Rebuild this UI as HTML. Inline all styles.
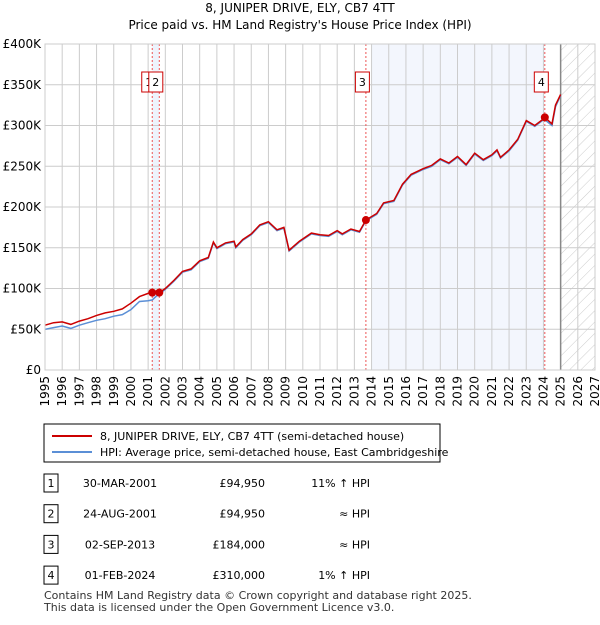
<!DOCTYPE html>
<html><head><meta charset="utf-8"><style>
body{margin:0;background:#fff;font-family:"Liberation Sans","DejaVu Sans",sans-serif;}
svg text{font-family:"DejaVu Sans","Liberation Sans",sans-serif;}
</style></head><body>
<svg id="c" width="600" height="620" xmlns="http://www.w3.org/2000/svg">
<defs><pattern id="hatch" width="8" height="8" patternUnits="userSpaceOnUse" patternTransform="rotate(45)"><line x1="0" y1="0" x2="0" y2="8" stroke="#ccc" stroke-width="1"/></pattern></defs>
<text x="300" y="12" text-anchor="middle" font-size="12">8, JUNIPER DRIVE, ELY, CB7 4TT</text>
<text x="300" y="29" text-anchor="middle" font-size="12">Price paid vs. HM Land Registry's House Price Index (HPI)</text>
<g id="plot"></g>
<rect x="44" y="424" width="396" height="38" fill="#fff" stroke="#000" stroke-width="1"/>
<line x1="52" y1="436" x2="92" y2="436" stroke="#c00" stroke-width="2"/>
<text x="100" y="440" font-size="11">8, JUNIPER DRIVE, ELY, CB7 4TT (semi-detached house)</text>
<line x1="52" y1="452" x2="92" y2="452" stroke="#5b8fd6" stroke-width="2"/>
<text x="100" y="456" font-size="11">HPI: Average price, semi-detached house, East Cambridgeshire</text>
<g id="table" font-size="11"></g>
<text x="44" y="599" font-size="11" fill="#333">Contains HM Land Registry data © Crown copyright and database right 2025.</text>
<text x="44" y="611" font-size="11" fill="#333">This data is licensed under the Open Government Licence v3.0.</text>
</svg>
<script>
const redYears=[1995,1995.5,1996,1996.5,1997,1997.5,1998,1998.5,1999,1999.5,2000,2000.5,2001,2001.24,2001.5,2001.65,2002,2002.5,2003,2003.5,2004,2004.5,2004.8,2005,2005.5,2006,2006.1,2006.5,2007,2007.5,2008,2008.5,2008.9,2009.2,2009.8,2010.5,2011,2011.5,2012,2012.3,2012.8,2013.3,2013.67,2014.3,2014.7,2015.3,2015.8,2016.3,2017,2017.5,2018,2018.5,2019,2019.5,2020,2020.5,2021,2021.3,2021.5,2022,2022.5,2023,2023.5,2024,2024.08,2024.5,2024.7,2025];
const redVals=[55,58,59,56,60,63,67,70,72,75,82,90,94,95,97,95,100,110,121,124,134,138,157,150,156,158,151,160,167,178,182,172,175,147,158,168,166,165,171,167,173,170,184,192,205,208,228,240,247,251,259,254,262,252,266,258,264,270,261,270,283,306,300,308,310,302,325,338];
const blueYears=[1995,1995.5,1996,1996.5,1997,1997.5,1998,1998.5,1999,1999.5,2000,2000.5,2001,2001.24,2001.5,2001.65,2002,2002.5,2003,2003.5,2004,2004.5,2004.8,2005,2005.5,2006,2006.1,2006.5,2007,2007.5,2008,2008.5,2008.9,2009.2,2009.8,2010.5,2011,2011.5,2012,2012.3,2012.8,2013.3,2013.67,2014.3,2014.7,2015.3,2015.8,2016.3,2017,2017.5,2018,2018.5,2019,2019.5,2020,2020.5,2021,2021.3,2021.5,2022,2022.5,2023,2023.5,2024,2024.08,2024.5,2024.7,2025];
const blueVals=[50,52,54,51,55,58,61,63,66,68,74,84,85,86,91,93,99,109,120,123,133,137,156,149,155,157,150,159,166,177,181,171,174,146,157,167,165,164,170,166,172,169,183,191,204,207,227,239,246,250,258,253,261,251,265,257,263,269,260,269,282,305,299,307,307,300,323,337];
const saleYears=[2001.24,2001.65,2013.67,2024.08];
const saleVals=[94.95,94.95,184,310];
const saleLabels=["1","2","3","4"];
const saleDates=["30-MAR-2001","24-AUG-2001","02-SEP-2013","01-FEB-2024"];
const salePrices=["£94,950","£94,950","£184,000","£310,000"];
const saleHpi=["11% ↑ HPI","≈ HPI","≈ HPI","1% ↑ HPI"];
const yTicks=[0,50,100,150,200,250,300,350,400];
const xTicks=[1995,1996,1997,1998,1999,2000,2001,2002,2003,2004,2005,2006,2007,2008,2009,2010,2011,2012,2013,2014,2015,2016,2017,2018,2019,2020,2021,2022,2023,2024,2025,2026,2027];
const X0=45,X1=595,Y0=370,Y1=44;
const xs=y=>X0+(y-1995)/(2027-1995)*(X1-X0);
const ys=v=>Y0-v/400*(Y0-Y1);
const NS="http://www.w3.org/2000/svg";
const plot=document.getElementById('plot');
function mk(tag,attrs,parent){const e=document.createElementNS(NS,tag);for(const k in attrs)e.setAttribute(k,attrs[k]);(parent||plot).appendChild(e);return e;}
let s=mk('rect',{x:xs(2001.24),y:Y1,width:xs(2001.65)-xs(2001.24),height:Y0-Y1,fill:'#eef3fc'});


s=mk('rect',{x:xs(2014),y:Y1,width:xs(2024.08)-xs(2014),height:Y0-Y1,fill:'#f3f6fd'});


s=mk('rect',{x:xs(2025),y:Y1,width:X1-xs(2025),height:Y0-Y1,fill:'url(#hatch)'});


yTicks.forEach(v=>{
 const l=mk('line',{x1:X0,x2:X1,y1:ys(v),y2:ys(v),stroke:'#ccc'});
 
 
 const t=mk('text',{x:X0-4,y:ys(v)+4,'text-anchor':'end','font-size':12});
 
 
 t.textContent=v===0?'£0':'£'+v+'K';
});
xTicks.forEach(y=>{
 const l=mk('line',{x1:xs(y),x2:xs(y),y1:Y1,y2:Y0,stroke:'#ccc'});
 
 
 const t=mk('text',{x:0,y:0,'font-size':12,'text-anchor':'end',transform:`translate(${xs(y)+4},${Y0+6}) rotate(-90)`});
 
 
 t.textContent=y;
});
let d=mk('line',{x1:xs(2025),x2:xs(2025),y1:Y1,y2:Y0,stroke:'#888','stroke-width':1.5});


saleYears.forEach((y,i)=>{
 const l=mk('line',{x1:xs(y),x2:xs(y),y1:Y1,y2:Y0,stroke:'#e55','stroke-dasharray':'2,2'});
 
 
});
function path(xa,va){return xa.map((y,i)=>(i?'L':'M')+xs(y).toFixed(1)+','+ys(va[i]).toFixed(1)).join('');}
let p=mk('path',{d:path(blueYears,blueVals),fill:'none',stroke:'#5b8fd6','stroke-width':1.5});


p=mk('path',{d:path(redYears,redVals),fill:'none',stroke:'#c00','stroke-width':1.5});


saleYears.forEach((y,i)=>{
 const c=mk('circle',{cx:xs(y),cy:ys(saleVals[i]),r:4,fill:'#c00'});
 
 
 const bx=xs(y)-3.5;
 const r=mk('rect',{x:bx-7,y:72,width:14,height:20,fill:'#fff',stroke:'#c00'});
 
 
 const t=mk('text',{x:bx,y:86,'font-size':11,'text-anchor':'middle'});
 
 
 t.textContent=saleLabels[i];
});
let f=mk('rect',{x:X0,y:Y1,width:X1-X0,height:Y0-Y1,fill:'none',stroke:'#ccc'});


const tb=document.getElementById('table');
saleLabels.forEach((lab,i)=>{
 const cy=483+i*30.7;
 const r=mk('rect',{x:44,y:cy-9,width:14,height:18,fill:'#fff',stroke:'#000'},tb);
 
 
 const cells=[[51,lab,'middle'],[120,saleDates[i],'middle'],[265,salePrices[i],'end'],[370,saleHpi[i],'end']];
 cells.forEach(c=>{
  const t=mk('text',{x:c[0],y:cy+4,'text-anchor':c[2]},tb);
  
  
  t.textContent=c[1];
 });
});
</script>
</body></html>
